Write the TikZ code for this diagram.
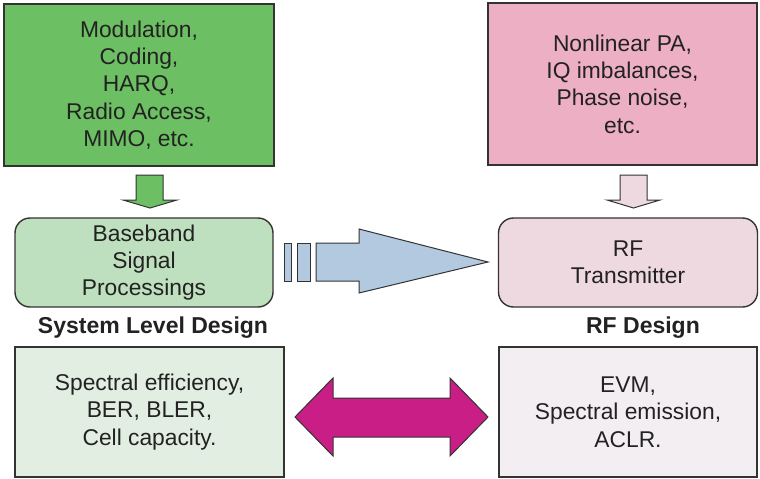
\documentclass[tikz,border=0pt]{standalone}
\usepackage{fontspec}
\setmainfont{Liberation Sans}
\definecolor{gTop}{HTML}{6CBF62}
\definecolor{pTop}{HTML}{EDAFC3}
\definecolor{gMid}{HTML}{BFE0BE}
\definecolor{pMid}{HTML}{EFD9E1}
\definecolor{gBot}{HTML}{E1EEE1}
\definecolor{pBot}{HTML}{F3EEF2}
\definecolor{blueA}{HTML}{B3C9E0}
\definecolor{magA}{HTML}{C91E86}
\definecolor{edge}{HTML}{333333}
\definecolor{txt}{HTML}{222222}
\tikzset{
  box/.style={draw=edge, line width=1.4pt, align=center, text=txt, inner sep=0pt,
    font=\fontsize{22.8}{27.3}\selectfont},
  rbox/.style={box, rounded corners=15pt},
  lbl/.style={text=txt, font=\fontsize{23}{27}\selectfont\bfseries, inner sep=0pt},
  blk/.style={draw=edge, line width=1pt, line join=miter}
}
\begin{document}
\begin{tikzpicture}[x=1pt,y=-1pt]
\useasboundingbox (0,0) rectangle (760,479);
\node[box, fill=gTop, minimum width=270pt, minimum height=162pt] (mod) at (139,85)
  {Modulation,\\Coding,\\HARQ,\\Radio Access,\\MIMO, etc.};
\node[box, fill=pTop, minimum width=269pt, minimum height=162pt] (nl) at (622.5,84)
  {Nonlinear PA,\\IQ imbalances,\\Phase noise,\\etc.};
\node[rbox, fill=gMid, minimum width=258pt, minimum height=89pt] (bb) at (144,262.5)
  {Baseband\\Signal\\Processings};
\node[rbox, fill=pMid, minimum width=259pt, minimum height=89pt] (rf) at (628,262.5)
  {RF\\Transmitter};
\node[lbl] (sld) at (153,328) {System Level Design};
\node[lbl] (rfd) at (643,328) {RF Design};
\node[box, fill=gBot, minimum width=269pt, minimum height=130pt] (sp) at (149.5,412)
  {Spectral efficiency,\\BER, BLER,\\Cell capacity.};
\node[box, fill=pBot, minimum width=258pt, minimum height=130pt] (evm) at (628,412)
  {EVM,\\Spectral emission,\\ACLR.};
% green down arrow
\draw[blk, fill=gTop] (136,175) -- (163,175) -- (163,200) -- (177,200) -- (150,208)
  -- (123,200) -- (136,200) -- cycle;
% pink down arrow
\draw[blk, fill=pMid] (620,175) -- (647,175) -- (647,200) -- (660,200) -- (633.5,208)
  -- (607,200) -- (620,200) -- cycle;
% blue arrow with stripes
\draw[blk, fill=blueA] (284,243) rectangle (291,281);
\draw[blk, fill=blueA] (297,243) rectangle (310,281);
\draw[blk, fill=blueA] (316,243) -- (359,243) -- (359,229) -- (488,262) -- (359,293)
  -- (359,281) -- (316,281) -- cycle;
% magenta double arrow
\draw[blk, fill=magA] (295,417) -- (333,378) -- (333,398) -- (450,398) -- (450,378)
  -- (488,417) -- (450,456) -- (450,437) -- (333,437) -- (333,456) -- cycle;
\end{tikzpicture}
\end{document}
